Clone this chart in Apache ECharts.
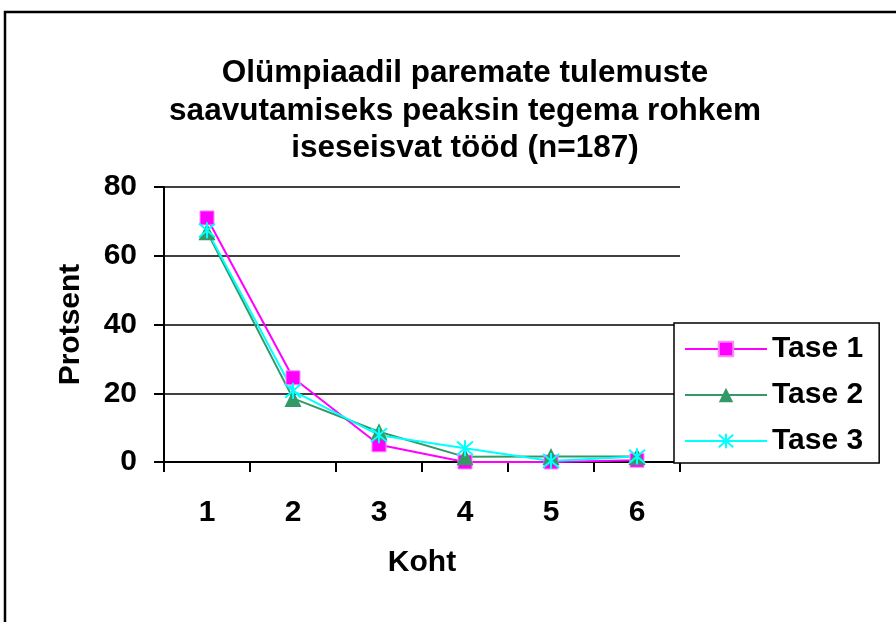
<!DOCTYPE html>
<html>
<head>
<meta charset="utf-8">
<script src="https://cdn.jsdelivr.net/npm/echarts@6/dist/echarts.min.js"></script>
<style>html,body{margin:0;padding:0;background:#fff}#c{width:896px;height:622px}</style>
</head>
<body>
<div id="c"></div>
<script>
const categories = ['1', '2', '3', '4', '5', '6'];
const tase1 = [71, 24.5, 5, 0, 0, 0.5];
const tase2 = [67, 18.5, 8.8, 1.5, 1.6, 1.6];
const tase3 = [67.4, 20.7, 7.8, 4, 0.3, 1.6];
const seriesNames = ['Tase 1', 'Tase 2', 'Tase 3'];
const titleText = 'Olümpiaadil paremate tulemuste\nsaavutamiseks peaksin tegema rohkem\niseseisvat tööd (n=187)';

const F = '"Liberation Sans", Arial, sans-serif';
const chart = echarts.init(document.getElementById('c'));
chart.setOption({
  animation: false,
  backgroundColor: '#fff',
  textStyle: { fontFamily: F },
  title: {
    text: titleText,
    left: 460, textAlign: 'center', top: 50,
    textStyle: { fontFamily: F, fontWeight: 'bold', fontSize: 31.5, lineHeight: 37.5, color: '#000' }
  },
  grid: { left: 164, right: 216, top: 187, bottom: 160, containLabel: false },
  legend: {
    orient: 'vertical', left: 674, top: 323,
    backgroundColor: '#fff', borderColor: '#000', borderWidth: 1.5, borderRadius: 0,
    padding: [11, 16, 7, 10],
    itemWidth: 82, itemHeight: 18, itemGap: 16,
    textStyle: { fontFamily: F, fontWeight: 'bold', fontSize: 30, lineHeight: 30, color: '#000' },
    data: seriesNames
  },
  xAxis: {
    type: 'category', data: categories, boundaryGap: true,
    name: 'Koht', nameLocation: 'middle', nameGap: 86,
    nameTextStyle: { fontFamily: F, fontWeight: 'bold', fontSize: 30, color: '#000' },
    axisLine: { lineStyle: { color: '#000', width: 2 } },
    axisTick: { show: true, interval: 0, length: 10, lineStyle: { color: '#000', width: 2 } },
    axisLabel: { margin: 36, fontFamily: F, fontWeight: 'bold', fontSize: 30, color: '#000' },
    splitLine: { show: false }
  },
  yAxis: {
    type: 'value', min: 0, max: 80, interval: 20,
    name: 'Protsent', nameLocation: 'middle', nameGap: 78, nameRotate: 90,
    nameTextStyle: { fontFamily: F, fontWeight: 'bold', fontSize: 30, color: '#000' },
    axisLine: { show: true, lineStyle: { color: '#000', width: 2 } },
    axisTick: { show: true, length: 10, lineStyle: { color: '#000', width: 2 } },
    axisLabel: { margin: 27, fontFamily: F, fontWeight: 'bold', fontSize: 30, color: '#000' },
    splitLine: { show: true, lineStyle: { color: '#000', width: 1.5 } }
  },
  series: [
    {
      name: seriesNames[0], type: 'line', data: tase1,
      symbol: 'rect', symbolSize: 14,
      lineStyle: { color: '#FF00FF', width: 2 },
      itemStyle: { color: '#FF00FF', borderColor: '#FF88FF', borderWidth: 1 }
    },
    {
      name: seriesNames[1], type: 'line', data: tase2,
      symbol: 'triangle', symbolSize: 17,
      lineStyle: { color: '#339966', width: 2 },
      itemStyle: { color: '#339966', borderColor: '#339966', borderWidth: 0 }
    },
    {
      name: seriesNames[2], type: 'line', data: tase3,
      symbol: 'path://M0 0L12 12M12 0L0 12M6 -1L6 13', symbolSize: 16,
      lineStyle: { color: '#00FFFF', width: 2 },
      itemStyle: { color: 'rgba(0,0,0,0)', borderColor: '#00FFFF', borderWidth: 2 }
    }
  ],
  graphic: [
    { type: 'polyline', shape: { points: [[5, 622], [5, 12], [896, 12]] },
      style: { stroke: '#000', lineWidth: 2.5, fill: null }, z: 100 }
  ]
});
</script>
</body>
</html>
